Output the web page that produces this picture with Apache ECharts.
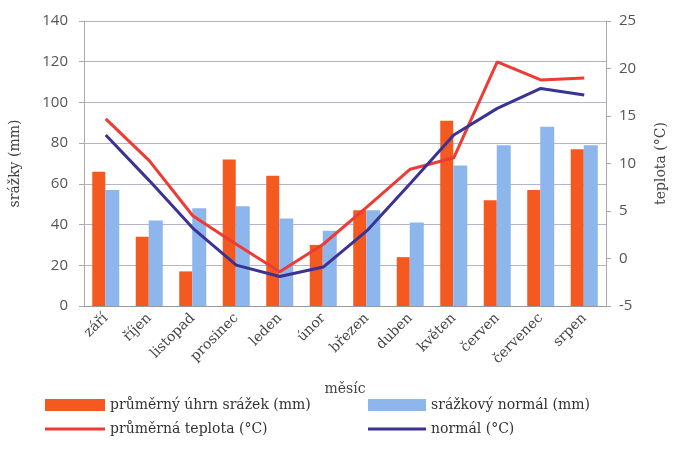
<!DOCTYPE html>
<html>
<head>
<meta charset="utf-8">
<script src="https://cdn.jsdelivr.net/npm/echarts@6/dist/echarts.min.js"></script>
<style>
  html, body { margin: 0; padding: 0; background: #fff; }
  #chart { width: 676px; height: 457px; }
</style>
</head>
<body>
<div id="chart"></div>
<script>
// měsíce (září .. srpen)
var months = ['září', 'říjen', 'listopad', 'prosinec', 'leden', 'únor',
              'březen', 'duben', 'květen', 'červen', 'červenec', 'srpen'];

// srážky v mm
var srazky = [66, 34, 17, 72, 64, 30, 47, 24, 91, 52, 57, 77];
var srazkyNormal = [57, 42, 48, 49, 43, 37, 47, 41, 69, 79, 88, 79];

// teplota ve °C
var teplota = [14.7, 10.3, 4.5, 1.5, -1.4, 1.5, 5.4, 9.4, 10.6, 20.7, 18.8, 19.0];
var teplotaNormal = [13.0, 8.2, 3.2, -0.7, -1.9, -0.9, 2.9, 7.9, 13.0, 15.8, 17.9, 17.2];

var serif = "'DejaVu Serif', 'Liberation Serif', serif";
var sans = "'Open Sans', 'Noto Sans', sans-serif";
var lineIcon = 'path://M0,0H60V3H0Z';

var myChart = echarts.init(document.getElementById('chart'));

var option = {
    animation: false,
    grid: { left: 78, right: 61, top: 21, bottom: 151 },
    legend: [
        {
            orient: 'vertical', left: 40, top: 393, itemGap: 10,
            itemWidth: 60, itemHeight: 12,
            textStyle: { fontFamily: serif, fontSize: 14, color: '#333' },
            data: [
                { name: 'průměrný úhrn srážek (mm)', icon: 'rect' },
                { name: 'průměrná teplota (°C)', icon: lineIcon }
            ]
        },
        {
            orient: 'vertical', left: 363, top: 393, itemGap: 10,
            itemWidth: 58, itemHeight: 12,
            textStyle: { fontFamily: serif, fontSize: 14, color: '#333' },
            data: [
                { name: 'srážkový normál (mm)', icon: 'rect' },
                { name: 'normál (°C)', icon: lineIcon }
            ]
        }
    ],
    xAxis: {
        type: 'category',
        data: months,
        name: 'měsíc',
        nameLocation: 'middle',
        nameGap: 76,
        nameTextStyle: { fontFamily: serif, fontSize: 14, color: '#444' },
        axisLine: { lineStyle: { color: '#999' } },
        axisTick: { length: 6, lineStyle: { color: '#999' } },
        axisLabel: { rotate: 45, fontFamily: serif, fontSize: 14, color: '#444', margin: 10 }
    },
    yAxis: [
        {
            type: 'value', min: 0, max: 140, interval: 20,
            name: 'srážky (mm)',
            nameLocation: 'middle', nameGap: 62, nameRotate: 90,
            nameTextStyle: { fontFamily: serif, fontSize: 14, color: '#444' },
            axisLine: { show: true, lineStyle: { color: '#aaa' } },
            axisTick: { show: true, length: 5, lineStyle: { color: '#aaa' } },
            axisLabel: { fontFamily: sans, fontSize: 15, color: '#555', margin: 16 },
            splitLine: { lineStyle: { color: '#b4b4cc', width: 1 } }
        },
        {
            type: 'value', min: -5, max: 25, interval: 5,
            name: 'teplota (°C)',
            nameLocation: 'middle', nameGap: 48, nameRotate: 90,
            nameTextStyle: { fontFamily: serif, fontSize: 14, color: '#444' },
            axisLine: { show: true, lineStyle: { color: '#aaa' } },
            axisTick: { show: true, length: 5, lineStyle: { color: '#aaa' } },
            axisLabel: { fontFamily: sans, fontSize: 15, color: '#555', margin: 13 },
            splitLine: { show: false }
        }
    ],
    series: [
        {
            name: 'průměrný úhrn srážek (mm)',
            type: 'bar',
            data: srazky,
            barWidth: 13,
            barGap: '0%',
            itemStyle: { color: '#F4591F' }
        },
        {
            name: 'srážkový normál (mm)',
            type: 'bar',
            data: srazkyNormal,
            barWidth: 14,
            itemStyle: { color: '#8CB6EC' }
        },
        {
            name: 'průměrná teplota (°C)',
            type: 'line',
            yAxisIndex: 1,
            data: teplota,
            symbol: 'none',
            lineStyle: { color: '#EE3B33', width: 3 },
            itemStyle: { color: '#EE3B33' }
        },
        {
            name: 'normál (°C)',
            type: 'line',
            yAxisIndex: 1,
            data: teplotaNormal,
            symbol: 'none',
            lineStyle: { color: '#3A3394', width: 3 },
            itemStyle: { color: '#3A3394' }
        }
    ]
};

myChart.setOption(option);
</script>
</body>
</html>
